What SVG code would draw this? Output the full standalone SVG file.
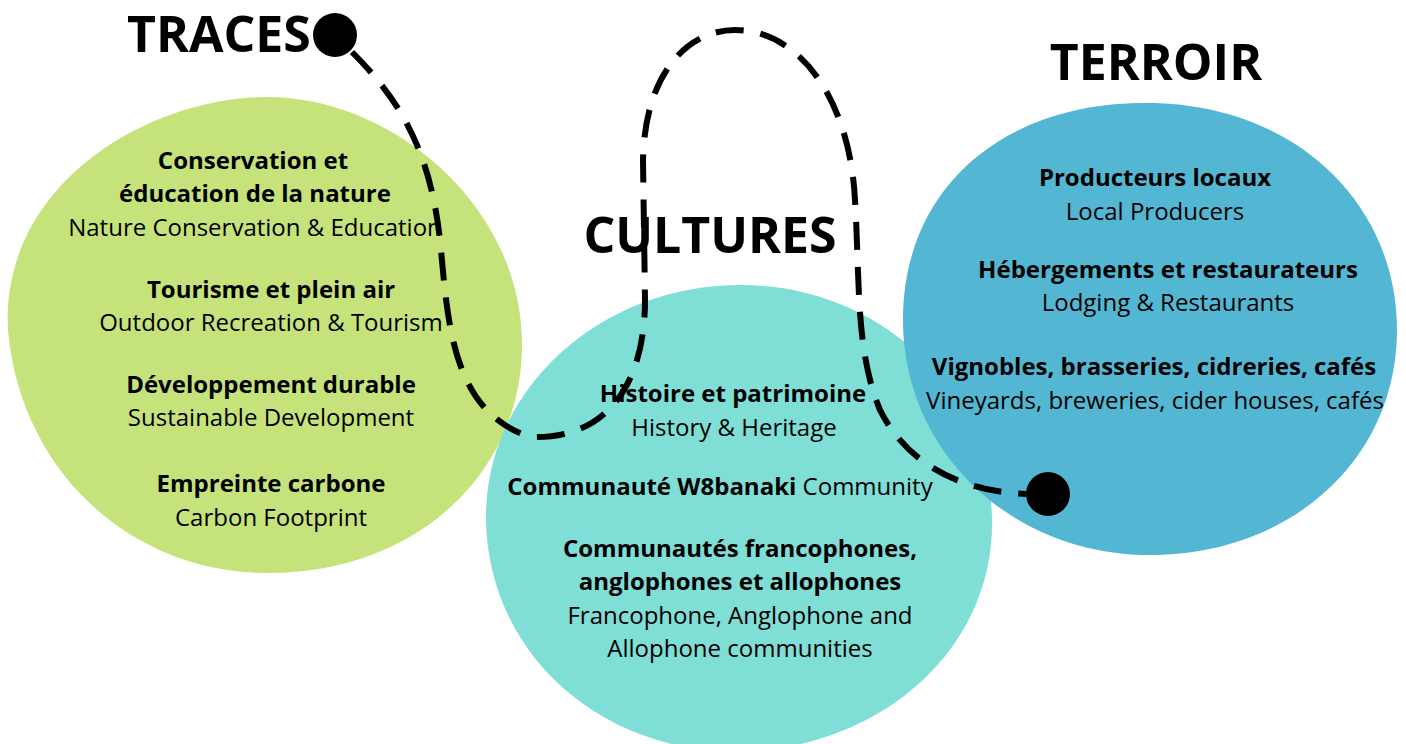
<svg xmlns="http://www.w3.org/2000/svg" width="1406" height="744" viewBox="0 0 1406 744">
<style>
.t{font-family:"Open Sans","Liberation Sans",sans-serif;font-size:24px;fill:#000;text-anchor:middle}
.b{font-weight:bold}
.h{font-family:"Open Sans","Liberation Sans",sans-serif;font-size:50px;font-weight:bold;fill:#000}
.dash{fill:none;stroke:#000;stroke-width:6;stroke-dasharray:28 17}
</style>
<rect width="1406" height="744" fill="#fff"/>
<g id="traces">
<path d="M265,97 C385,95 522,200 522,345 C522,470 420,572 270,573 C130,574 20,470 8,330 C0,190 140,99 265,97 Z" fill="#C6E37B"/>
<text class="h" x="127" y="52">TRACES</text>
<text class="t b" x="253" y="169">Conservation et</text>
<text class="t b" x="255" y="202">éducation de la nature</text>
<text class="t" x="255" y="236">Nature Conservation &amp; Education</text>
<text class="t b" x="271" y="298">Tourisme et plein air</text>
<text class="t" x="271" y="331">Outdoor Recreation &amp; Tourism</text>
<text class="t b" x="271" y="393">Développement durable</text>
<text class="t" x="271" y="426">Sustainable Development</text>
<text class="t b" x="271" y="492">Empreinte carbone</text>
<text class="t" x="271" y="526">Carbon Footprint</text>
</g>
<g id="cultures">
<path d="M740,285 C880,285 990,390 992,520 C994,650 880,750 735,752 C595,750 488,650 486,520 C484,390 600,285 740,285 Z" fill="#7FDED6"/>
<text class="h" x="710" y="253" text-anchor="middle">CULTURES</text>
<text class="t b" x="733" y="402">Histoire et patrimoine</text>
<text class="t" x="734" y="436">History &amp; Heritage</text>
<text class="t" x="720" y="495"><tspan class="b">Communauté W8banaki</tspan> Community</text>
<text class="t b" x="740" y="557">Communautés francophones,</text>
<text class="t b" x="740" y="590">anglophones et allophones</text>
<text class="t" x="740" y="624">Francophone, Anglophone and</text>
<text class="t" x="740" y="657">Allophone communities</text>
</g>
<g id="terroir">
<path d="M1140,103 C1290,100 1397,200 1397,330 C1397,460 1290,555 1150,555 C1010,555 903,450 903,320 C903,190 1000,105 1140,103 Z" fill="#53B7D3"/>
<text class="h" x="1156" y="80" text-anchor="middle">TERROIR</text>
<text class="t b" x="1155" y="186">Producteurs locaux</text>
<text class="t" x="1155" y="220">Local Producers</text>
<text class="t b" x="1168" y="278">Hébergements et restaurateurs</text>
<text class="t" x="1168" y="311">Lodging &amp; Restaurants</text>
<text class="t b" x="1154" y="375">Vignobles, brasseries, cidreries, cafés</text>
<text class="t" x="1155" y="409">Vineyards, breweries, cider houses, cafés</text>
</g>
<g id="connectors">
<path class="dash" d="M352,52 C400,100 430,150 440,240 C448,320 450,410 530,437 C610,440 645,380 645,300 L643,160 C645,70 690,30 735,30 C800,30 850,100 855,200 C860,280 855,350 880,410 C910,470 970,492 1026,494"/>
<circle cx="335" cy="35" r="22" fill="#000"/>
<circle cx="1048" cy="494" r="22" fill="#000"/>
</g>
</svg>
